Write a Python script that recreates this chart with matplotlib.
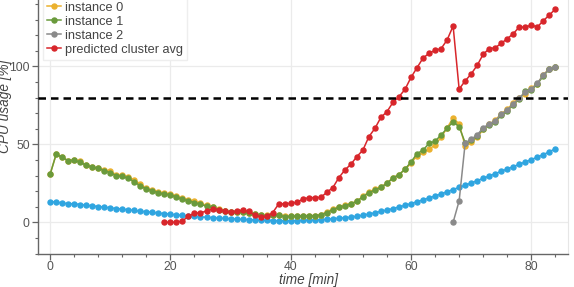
import matplotlib
matplotlib.use("Agg")
import matplotlib.pyplot as plt
from matplotlib.ticker import MultipleLocator, AutoMinorLocator

plt.rcParams['font.family'] = ['Liberation Sans', 'DejaVu Sans']

time_all = list(range(0, 85))
blue_vals = [13.2, 13.0, 12.4, 11.9, 11.9, 11.4, 10.9, 10.6, 10.1, 9.7, 9.3, 8.8, 8.5, 8.0, 7.6, 7.1,
             6.8, 6.4, 5.9, 5.6, 5.2, 4.8, 4.4, 4.1, 3.8, 3.5, 3.2, 3.0, 2.7, 2.5, 2.3, 2.1, 1.9, 1.7,
             1.5, 1.3, 1.2, 1.1, 1.0, 1.0, 1.0, 1.1, 1.2, 1.3, 1.5, 1.7, 2.0, 2.3, 2.6, 2.9, 3.3, 3.9,
             4.6, 5.3, 6.1, 7.0, 7.9, 8.8, 9.8, 10.9, 12.0, 13.2, 14.4, 15.6, 16.9, 18.2, 19.6, 21.0,
             22.4, 23.8, 25.2, 26.7, 28.2, 29.7, 31.2, 32.7, 34.2, 35.7, 37.2, 38.7, 40.2, 41.8, 43.4,
             45.2, 47.2]
instance0 = [30.8, 43.6, 41.7, 39.5, 40.2, 39.0, 36.6, 35.5, 34.8, 33.7, 32.6, 30.6, 30.3, 29.0, 27.0,
             24.6, 21.8, 20.7, 19.4, 18.6, 18.0, 16.7, 15.4, 14.5, 13.4, 12.2, 10.9, 9.9, 8.3, 7.3, 6.8,
             6.6, 6.5, 6.0, 5.4, 4.6, 4.4, 4.6, 4.6, 3.8, 3.9, 4.1, 4.2, 4.3, 4.3, 5.0, 6.6, 8.5, 9.9,
             10.8, 12.0, 13.5, 16.6, 19.3, 21.2, 22.6, 25.2, 28.5, 30.6, 34.0, 37.8, 42.8, 44.8, 46.8,
             49.6, 54.5, 60.5, 67.0, 63.0, 48.9, 51.7, 54.5, 59.5, 62.8, 65.5, 69.5, 72.5, 76.5, 80.0,
             82.5, 86.0, 88.8, 94.5, 98.5, 99.5]
instance1 = [30.8, 43.6, 41.7, 39.5, 39.7, 38.5, 36.5, 35.4, 34.6, 33.1, 31.8, 29.9, 29.5, 28.2, 26.0,
             23.3, 21.3, 20.3, 18.8, 18.1, 17.6, 16.2, 14.7, 13.8, 12.6, 11.5, 10.4, 9.6, 8.0, 7.0, 6.6,
             6.4, 6.4, 5.8, 5.3, 4.5, 4.2, 4.5, 4.5, 3.6, 3.8, 4.0, 4.0, 4.1, 4.1, 4.7, 6.2, 8.1, 9.6,
             10.6, 11.9, 13.4, 16.4, 19.0, 20.7, 22.4, 25.0, 28.4, 30.5, 34.0, 38.7, 44.0, 46.3, 50.6,
             52.0, 56.0, 60.2, 64.5, 61.3, 51.0, 52.8, 55.3, 60.0, 62.5, 64.5, 68.5, 71.5, 75.5, 79.0,
             84.0, 85.0, 88.5, 94.0, 98.0, 99.8]
time_inst2 = list(range(67, 85))
instance2 = [0.0, 13.7, 50.6, 53.2, 56.0, 60.6, 63.0, 65.1, 69.2, 72.0, 75.8, 79.5, 83.7, 85.3, 89.1,
             94.4, 98.3, 99.8]
time_pred = list(range(19, 85))
predicted = [0.0, 0.0, 0.1, 0.8, 4.0, 5.8, 6.1, 7.2, 8.5, 8.1, 7.4, 6.3, 7.5, 7.7, 7.0, 4.6, 3.3, 3.8,
             6.2, 11.7, 11.9, 12.2, 12.8, 14.8, 15.8, 15.8, 16.0, 19.2, 22.2, 28.6, 33.5, 37.2, 42.1,
             46.3, 54.9, 60.2, 67.3, 70.9, 76.9, 80.5, 85.2, 92.9, 99.1, 105.3, 108.3, 110.3, 111.3,
             116.9, 125.8, 85.4, 90.6, 95.1, 100.6, 107.7, 111.3, 111.9, 114.7, 117.7, 120.9, 125.2,
             125.0, 126.5, 125.2, 129.2, 132.9, 136.7]
threshold = 80

fig = plt.figure(figsize=(5.74, 2.87), dpi=100)
# axes top extends above the figure (cropped like the reference)
ax = fig.add_axes([37.5 / 574, 33.5 / 287, 530.5 / 574, 265.2 / 287])

kw = dict(marker='o', markersize=3.6, linewidth=1.1)
ax.plot(time_all, blue_vals, color='#2fa5e0', zorder=3, **kw)
ax.plot(time_all, instance0, color='#ebb12e', label='instance 0', zorder=4, **kw)
ax.plot(time_all, instance1, color='#6a9a3c', label='instance 1', zorder=5, **kw)
ax.plot(time_inst2, instance2, color='#8a8a8a', label='instance 2', zorder=6, **kw)
ax.plot(time_pred, predicted, color='#d8262b', label='predicted cluster avg', zorder=7, **kw)
ax.axhline(threshold, color='black', linestyle=(0, (3, 2)), linewidth=1.8, zorder=8)

ax.set_xlim(-2.1, 86.1)
ax.set_ylim(-20, 150)
ax.xaxis.set_major_locator(MultipleLocator(20))
ax.xaxis.set_minor_locator(AutoMinorLocator(5))
ax.yaxis.set_major_locator(MultipleLocator(50))
ax.yaxis.set_minor_locator(AutoMinorLocator(5))

ax.grid(True, which='major', color='#ebebeb', linewidth=0.9, zorder=0)
ax.set_axisbelow(True)
for s in ['left', 'bottom']:
    ax.spines[s].set_color('#666666')
    ax.spines[s].set_linewidth(1.0)
ax.spines['top'].set_visible(False)
ax.spines['right'].set_color('#e6e6e6')
ax.tick_params(which='major', direction='out', length=4, width=0.9, color='#666666',
               labelsize=8.7, labelcolor='#555555', pad=1.5)
ax.tick_params(which='minor', direction='out', length=2.5, width=0.8, color='#666666')

ax.set_xlabel('time [min]', fontsize=9.8, style='italic', color='#444444')
ax.set_ylabel('CPU usage [%]', fontsize=9.8, style='italic', color='#444444')
ax.yaxis.set_label_coords(-0.048, 0.556)
ax.xaxis.set_label_coords(0.51, -0.074)

leg = ax.legend(loc='lower left', bbox_to_anchor=(0.01, 0.729), fontsize=9.2,
                frameon=True, fancybox=False, edgecolor='#eeeeee', framealpha=1,
                borderaxespad=0, handlelength=1.1, handletextpad=0.25,
                labelspacing=0.15, borderpad=0.35)
for t in leg.get_texts():
    t.set_color('#444444')

fig.savefig('out.png', dpi=100)
